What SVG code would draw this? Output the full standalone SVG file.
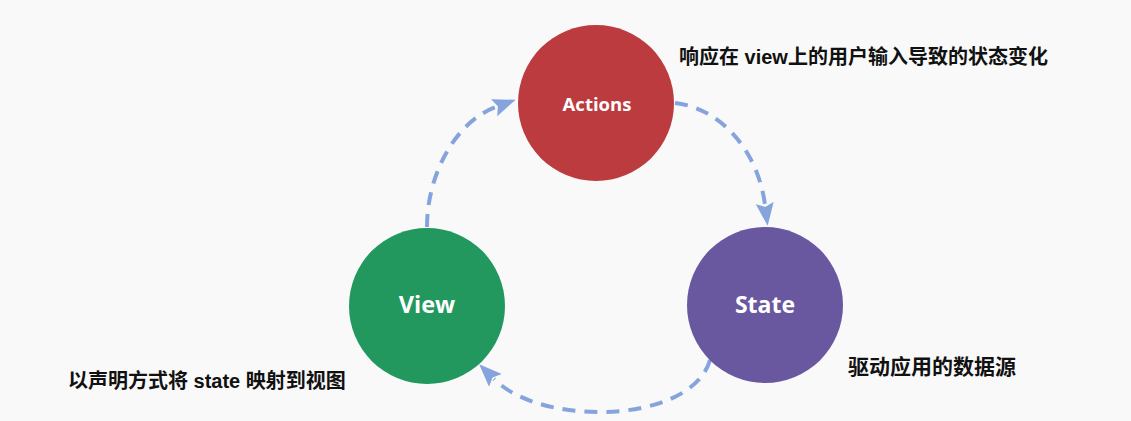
<svg xmlns="http://www.w3.org/2000/svg" width="1131" height="421" viewBox="0 0 1131 421">
  <style>
    .node-label { font-family: "Open Sans", "Noto Sans", sans-serif; font-weight: 700; fill: #ffffff; text-anchor: middle; }
    .note { font-family: "Liberation Sans", "Noto Sans CJK SC", sans-serif; font-weight: 700; fill: #111111; }
    .flow { fill: none; stroke: #85a3dc; stroke-width: 4; stroke-dasharray: 13 9; }
  </style>
  <defs>
    <marker id="arrow" markerUnits="userSpaceOnUse" markerWidth="26" markerHeight="20" refX="2" refY="9" orient="auto">
      <path d="M0,0 L23,9 L0,18 L4,9 z" fill="#85a3dc"/>
    </marker>
  </defs>

  <rect width="1131" height="421" fill="#f9f9f9"/>

  <!-- cycle connectors -->
  <g id="connectors">
    <path class="flow" d="M427,227 C427,175 455,122 496,107" marker-end="url(#arrow)"/>
    <path class="flow" d="M675,103 C720,108 758,150 765,205" marker-end="url(#arrow)"/>
    <path class="flow" d="M710,360 C700,395 650,412 600,412 C555,412 515,400 494,379" marker-end="url(#arrow)"/>
  </g>

  <g id="actions">
    <circle cx="596" cy="103" r="78" fill="#bc3b3e"/>
    <text class="node-label" x="597" y="111" font-size="18.5">Actions</text>
  </g>

  <g id="view">
    <circle cx="427" cy="306" r="78" fill="#22985e"/>
    <text class="node-label" x="427" y="313" font-size="23.5">View</text>
  </g>

  <g id="state">
    <circle cx="765" cy="305" r="78" fill="#6958a0"/>
    <text class="node-label" x="765" y="313" font-size="23">State</text>
  </g>

  <!-- annotations -->
  <text class="note" x="679" y="64" font-size="20">响应在 view上的用户输入导致的状态变化</text>
  <text class="note" x="848" y="374" font-size="21">驱动应用的数据源</text>
  <text class="note" x="68" y="388" font-size="20">以声明方式将 state 映射到视图</text>
</svg>
